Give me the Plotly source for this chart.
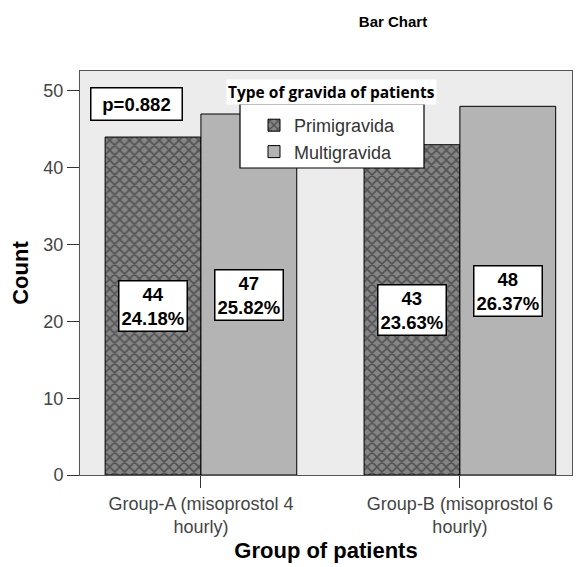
import plotly.graph_objects as go

categories = ["Group-A (misoprostol 4<br>hourly)", "Group-B (misoprostol 6<br>hourly)"]
primi = [44, 43]
multi = [47, 48]
primi_pct = ["24.18%", "23.63%"]
multi_pct = ["25.82%", "26.37%"]
series_names = ["Primigravida", "Multigravida"]

FONT = "Liberation Sans, Arial, sans-serif"

# page body has an 8px margin; figure is sized/offset to compensate
OFF = 8
W, H = 581 - OFF, 567 - OFF
PL, PR, PT, PB = 80, 572, 71, 475  # plot area in window pixels
PW, PH = PR - PL, PB - PT


def px(x):
    return (x - PL) / PW


def py(y):
    return (PB - y) / PH


fig = go.Figure()
fig.add_trace(go.Bar(
    x=categories, y=primi, name=series_names[0],
    marker=dict(color="#858585", line=dict(color="black", width=1),
                pattern=dict(shape="x", fgcolor="#1e1e1e", bgcolor="#858585", size=7, solidity=0.4)),
))
fig.add_trace(go.Bar(
    x=categories, y=multi, name=series_names[1],
    marker=dict(color="#b4b4b4", line=dict(color="black", width=1)),
))

annotations = []
for i, c in enumerate(categories):
    for vals, pcts, shift in ((primi, primi_pct, -48), (multi, multi_pct, 48)):
        annotations.append(dict(
            x=c, y=vals[i] / 2, xref="x", yref="y", xshift=shift,
            text=f"<b>{vals[i]}<br>{pcts[i]}</b>", showarrow=False,
            font=dict(family=FONT, size=18.5, color="black"),
            bgcolor="white", bordercolor="black", borderwidth=1.5, borderpad=2,
        ))
annotations.append(dict(
    x=px(136), y=py(104.5), xref="paper", yref="paper", xanchor="center", yanchor="middle",
    text="<b>p=0.882</b>", showarrow=False, width=84, height=25,
    font=dict(family=FONT, size=18.5, color="black"),
    bgcolor="white", bordercolor="black", borderwidth=1.5, borderpad=3,
))
annotations.append(dict(
    x=px(331), y=py(92), xref="paper", yref="paper",
    xanchor="center", yanchor="middle",
    text="<b>Type of gravida of patients</b>", showarrow=False,
    font=dict(family="Open Sans, sans-serif", size=15.5, color="black"),
    bgcolor="white", borderpad=1,
))

shapes = [dict(
    type="rect", xref="paper", yref="paper", layer="above",
    x0=px(240), x1=px(424), y0=py(168), y1=py(104),
    fillcolor="white", line=dict(color="black", width=1.2),
)]

fig.update_layout(
    width=W, height=H,
    margin=dict(l=PL - OFF, r=581 - PR, t=PT - OFF, b=567 - PB),
    paper_bgcolor="white", plot_bgcolor="#ececec",
    barmode="group", bargap=0.26, bargroupgap=0,
    title=dict(text="<b>Bar Chart</b>", x=(393 - OFF) / W, xanchor="center",
               y=1 - (22 - OFF) / H, yanchor="middle",
               font=dict(family=FONT, size=15, color="black")),
    font=dict(family=FONT, color="black"),
    showlegend=True,
    legend=dict(x=px(254), y=py(107), xanchor="left", yanchor="top",
                bgcolor="rgba(0,0,0,0)", borderwidth=0,
                font=dict(family=FONT, size=18, color="#333333"),
                tracegroupgap=0, itemwidth=30),
    xaxis=dict(
        range=[-0.467, 1.433], showline=True, linecolor="#555555", linewidth=1, mirror=True,
        ticks="outside", ticklen=12, tickcolor="#333333", automargin=False,
        tickfont=dict(family=FONT, size=18, color="#444444"),
        title=dict(text="<b>Group of patients</b>", font=dict(family=FONT, size=22, color="black"), standoff=6),
    ),
    yaxis=dict(
        range=[0, 52.6], dtick=10, showgrid=False, zeroline=False, automargin=False,
        showline=True, linecolor="#555555", linewidth=1, mirror=True,
        ticks="outside", ticklen=12, tickcolor="#333333",
        tickfont=dict(family=FONT, size=18, color="#444444"),
        title=dict(text="<b>Count</b>", font=dict(family=FONT, size=22, color="black"), standoff=8),
    ),
    annotations=annotations,
    shapes=shapes,
)

fig.write_html("out.html")
